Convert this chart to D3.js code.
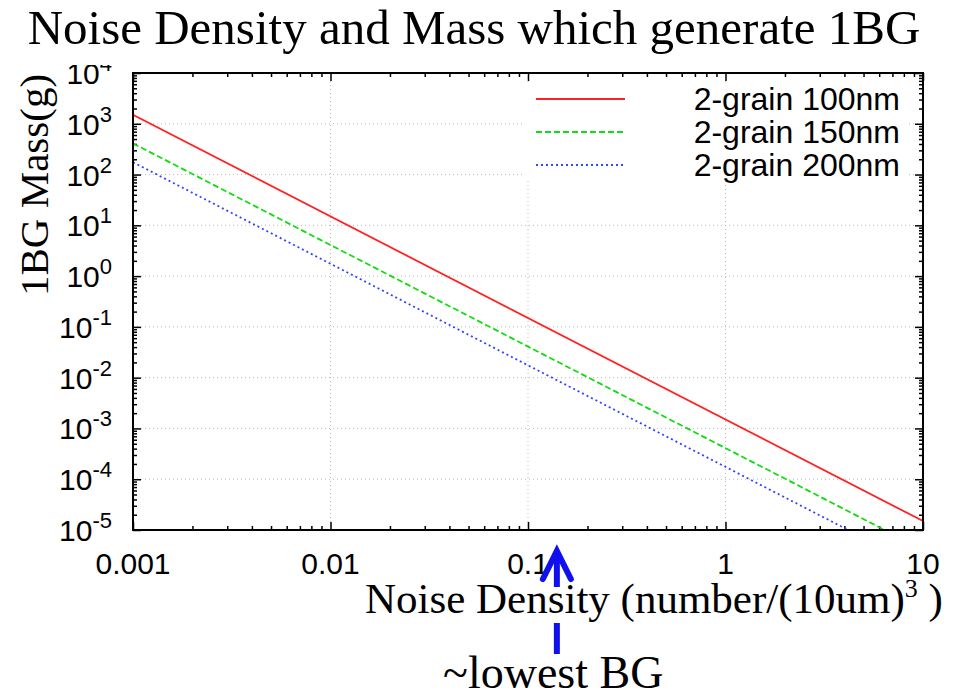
<!DOCTYPE html>
<html>
<head>
<meta charset="utf-8">
<script src="https://cdn.jsdelivr.net/npm/d3@7"></script>
<style>
  body { margin: 0; background: #fff; }
  .sans { font-family: "Liberation Sans", Arial, sans-serif; }
  .serif { font-family: "Liberation Serif", "Times New Roman", serif; }
</style>
</head>
<body>
<svg id="chart" width="953" height="698"></svg>
<script>
// values (straight lines on log-log, so two ends each)
const noiseDensity = [0.001, 10];
const mass100nm = [1.5e3, 1.5e-5];
const mass150nm = [4.1e2, 4.1e-6];
const mass200nm = [1.75e2, 1.75e-6];
const seriesNames = ["2-grain 100nm", "2-grain 150nm", "2-grain 200nm"];
const xTickValues = [0.001, 0.01, 0.1, 1, 10];
const xTickLabels = ["0.001", "0.01", "0.1", "1", "10"];
const yTickExponents = [-5, -4, -3, -2, -1, 0, 1, 2, 3, 4];
const lowestBG = 0.14;

// plot box
const plotLeft = 133, plotRight = 923, plotTop = 73, plotBottom = 530;

const svg = d3.select("#chart");

const x = d3.scaleLog().domain([0.001, 10]).range([plotLeft, plotRight]);
const y = d3.scaleLog().domain([1e-5, 1e4]).range([plotBottom, plotTop]);

const isMajor = v => Math.abs(Math.log10(v) - Math.round(Math.log10(v))) < 1e-9;
const xMinor = x.ticks().filter(v => !isMajor(v));
const yMinor = y.ticks().filter(v => !isMajor(v));
const yMajor = yTickExponents.map(e => Math.pow(10, e));

// grid (dotted)
const grid = svg.append("g").attr("stroke", "#bbb").attr("stroke-width", 1).attr("stroke-dasharray", "1,3");
grid.selectAll(".gx").data(xTickValues.slice(1, -1)).join("line")
  .attr("x1", d => x(d)).attr("x2", d => x(d)).attr("y1", plotTop).attr("y2", plotBottom);
grid.selectAll(".gy").data(yMajor.slice(1, -1)).join("line")
  .attr("x1", plotLeft).attr("x2", plotRight).attr("y1", d => y(d)).attr("y2", d => y(d));

// ticks on all four sides, pointing inward
function tickAxis(axis, vals, size, transform) {
  const g = svg.append("g").attr("transform", transform)
    .call(axis.tickValues(vals).tickSize(size).tickFormat(""));
  g.select(".domain").remove();
  g.selectAll("line").attr("stroke", "#000").attr("stroke-width", 1.5);
}
tickAxis(d3.axisBottom(x), xTickValues, -8, `translate(0,${plotBottom})`);
tickAxis(d3.axisBottom(x), xMinor, -4, `translate(0,${plotBottom})`);
tickAxis(d3.axisTop(x), xTickValues, -8, `translate(0,${plotTop})`);
tickAxis(d3.axisTop(x), xMinor, -4, `translate(0,${plotTop})`);
tickAxis(d3.axisLeft(y), yMajor, -8, `translate(${plotLeft},0)`);
tickAxis(d3.axisLeft(y), yMinor, -4, `translate(${plotLeft},0)`);
tickAxis(d3.axisRight(y), yMajor, -8, `translate(${plotRight},0)`);
tickAxis(d3.axisRight(y), yMinor, -4, `translate(${plotRight},0)`);

// series
svg.append("clipPath").attr("id", "plotClip").append("rect")
  .attr("x", plotLeft).attr("y", plotTop).attr("width", plotRight - plotLeft).attr("height", plotBottom - plotTop);

const styles = [
  { color: "#ff2222", dash: null },
  { color: "#11dd11", dash: "6,3" },
  { color: "#3344ff", dash: "2,3" }
];
const seriesData = [mass100nm, mass150nm, mass200nm].map(vals => d3.zip(noiseDensity, vals));
const line = d3.line().x(d => x(d[0])).y(d => y(d[1]));

svg.append("g").attr("clip-path", "url(#plotClip)")
  .selectAll("path").data(seriesData).join("path")
  .attr("d", line)
  .attr("fill", "none")
  .attr("stroke", (d, i) => styles[i].color)
  .attr("stroke-width", 1.8)
  .attr("stroke-dasharray", (d, i) => styles[i].dash);

// legend
svg.append("rect").attr("x", 522).attr("y", 82).attr("width", 385).attr("height", 98).attr("fill", "#fff");
const legend = svg.append("g").selectAll("g").data(seriesNames).join("g")
  .attr("transform", (d, i) => `translate(0,${99 + i * 33})`);
legend.append("line")
  .attr("x1", 536).attr("x2", 625)
  .attr("stroke", (d, i) => styles[i].color)
  .attr("stroke-width", 1.8)
  .attr("stroke-dasharray", (d, i) => styles[i].dash);
legend.append("text").attr("class", "sans")
  .attr("x", 900).attr("y", 11).attr("text-anchor", "end")
  .attr("font-size", 32).text(d => d);

// frame
svg.append("rect").attr("x", plotLeft).attr("y", plotTop).attr("width", plotRight - plotLeft).attr("height", plotBottom - plotTop)
  .attr("fill", "none").attr("stroke", "#000").attr("stroke-width", 2);

// tick labels
svg.append("g").selectAll("text").data(xTickValues).join("text")
  .attr("class", "sans").attr("font-size", 30)
  .attr("x", d => x(d)).attr("y", 574).attr("text-anchor", "middle")
  .text((d, i) => xTickLabels[i]);

const yl = svg.append("g").selectAll("text").data(yTickExponents).join("text")
  .attr("class", "sans").attr("font-size", 30)
  .attr("x", 112).attr("y", d => y(Math.pow(10, d)) + 11).attr("text-anchor", "end");
yl.append("tspan").text("10");
yl.append("tspan").attr("font-size", 22).attr("dy", -13).text(d => d);

// title (its white box clips the top label, as in the original)
svg.append("rect").attr("x", 0).attr("y", 0).attr("width", 953).attr("height", 65).attr("fill", "#fff");
svg.append("text").attr("class", "serif")
  .attr("x", 474).attr("y", 44).attr("text-anchor", "middle").attr("font-size", 49)
  .text("Noise Density and Mass which generate 1BG");

// y label
svg.append("text").attr("class", "serif")
  .attr("transform", "translate(48,185) rotate(-90)")
  .attr("text-anchor", "middle").attr("font-size", 41)
  .text("1BG Mass(g)");

// arrow pointing at the lowest background density
const ax = x(lowestBG);
const arrow = svg.append("g").attr("stroke", "#1010ee").attr("stroke-width", 6)
  .attr("stroke-linecap", "round").attr("fill", "none");
arrow.append("line").attr("x1", ax).attr("x2", ax).attr("y1", 553).attr("y2", 654).attr("stroke-linecap", "butt");
arrow.append("path").attr("d", `M${ax - 14},${579} L${ax},${551} L${ax + 14},${579}`).attr("stroke-linejoin", "miter");

// x label over a white box that hides part of the arrow
const xlab = svg.append("text").attr("class", "serif")
  .attr("x", 365).attr("y", 613).attr("font-size", 43);
xlab.append("tspan").text("Noise Density (number/(10um)");
xlab.append("tspan").attr("font-size", 26).attr("dy", -16).text("3");
xlab.append("tspan").attr("dy", 16).text(" )");
const bb = xlab.node().getBBox();
svg.insert("rect", () => xlab.node())
  .attr("x", bb.x).attr("y", 587).attr("width", bb.width).attr("height", 36).attr("fill", "#fff");

svg.append("text").attr("class", "serif")
  .attr("x", 443).attr("y", 688).attr("font-size", 46)
  .text("~lowest BG");
</script>
</body>
</html>
